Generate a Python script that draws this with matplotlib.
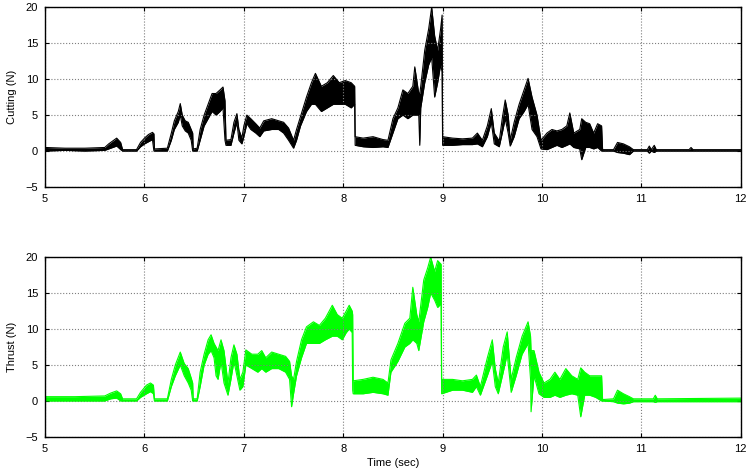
import matplotlib
matplotlib.use('Agg')
import matplotlib.pyplot as plt

# Cutting force envelope (time, lower, upper)
t_cut = [5.00, 5.20, 5.40, 5.60, 5.64, 5.68, 5.72, 5.76, 5.78, 5.92, 5.96, 6.00, 6.04, 6.08, 6.095, 6.10,
         6.23, 6.27, 6.30, 6.34, 6.36, 6.38, 6.41, 6.44, 6.47, 6.485, 6.49, 6.53, 6.56, 6.60, 6.64, 6.68,
         6.72, 6.76, 6.79, 6.81, 6.82, 6.87, 6.90, 6.93, 6.95, 6.98, 7.00, 7.03, 7.07, 7.12, 7.16, 7.20,
         7.28, 7.35, 7.40, 7.45, 7.50, 7.53, 7.57, 7.63, 7.68, 7.72, 7.78, 7.84, 7.90, 7.96, 8.02, 8.08,
         8.115, 8.12, 8.20, 8.30, 8.40, 8.45, 8.50, 8.55, 8.60, 8.65, 8.70, 8.72, 8.76, 8.77, 8.78, 8.82,
         8.86, 8.89, 8.92, 8.95, 8.98, 8.995, 9.00, 9.10, 9.20, 9.30, 9.35, 9.40, 9.45, 9.49, 9.52, 9.57,
         9.60, 9.63, 9.66, 9.68, 9.72, 9.77, 9.82, 9.86, 9.90, 9.95, 9.99, 10.05, 10.10, 10.15, 10.20, 10.25,
         10.28, 10.32, 10.38, 10.40, 10.44, 10.48, 10.52, 10.56, 10.60, 10.61, 10.72, 10.76, 10.82, 10.88, 10.92, 11.06,
         11.08, 11.10, 11.13, 11.15, 11.48, 11.50, 11.52, 12.00]
lo_cut = [0.0, 0.1, 0.0, 0.1, 0.3, 0.5, 0.7, 0.2, 0.0, 0.0, 0.6, 1.0, 1.3, 1.6, 0.0, 0.0,
          0.0, 1.5, 3.0, 4.0, 5.0, 3.5, 2.8, 2.5, 1.5, 0.0, 0.0, 0.0, 1.5, 3.5, 4.5, 5.5,
          5.0, 5.5, 6.0, 1.5, 0.8, 0.8, 2.5, 4.0, 1.5, 1.0, 2.0, 3.8, 3.0, 2.5, 2.0, 2.8,
          3.0, 3.0, 2.5, 1.5, 0.4, 1.5, 3.5, 5.5, 6.5, 6.5, 5.5, 6.0, 6.5, 6.5, 6.5, 6.0,
          6.5, 0.8, 0.6, 0.5, 0.6, 0.5, 2.5, 4.5, 5.0, 4.5, 5.0, 5.0, 5.0, 0.8, 6.0, 9.5,
          12.0, 13.0, 7.5, 9.5, 12.0, 11.0, 0.8, 0.8, 0.9, 0.9, 1.0, 0.6, 2.0, 4.0, 1.0, 0.6,
          2.5, 4.5, 2.5, 0.7, 2.0, 4.5, 5.5, 6.5, 3.0, 2.0, 0.3, 0.2, 0.5, 0.8, 0.5, 0.8,
          1.0, 0.5, 0.3, -1.2, 0.5, 0.5, 0.3, 0.5, 0.0, 0.0, 0.0, -0.2, -0.3, -0.5, 0.0, 0.0,
          -0.3, 0.0, -0.2, 0.0, 0.0, 0.0, 0.0, 0.0]
hi_cut = [0.5, 0.4, 0.4, 0.5, 1.0, 1.4, 1.8, 1.2, 0.2, 0.2, 1.2, 1.8, 2.3, 2.6, 2.4, 0.3,
          0.4, 2.5, 4.2, 5.5, 6.6, 5.0, 4.2, 4.0, 3.0, 2.5, 0.3, 0.4, 3.0, 5.0, 6.5, 8.0,
          8.0, 8.5, 8.9, 7.0, 1.5, 1.6, 4.0, 5.2, 3.0, 1.8, 3.5, 5.0, 4.5, 3.8, 3.2, 4.2,
          4.5, 4.2, 4.0, 3.2, 1.5, 3.0, 4.8, 7.5, 9.5, 10.8, 9.0, 9.5, 10.5, 9.5, 9.8, 9.5,
          9.0, 2.0, 1.8, 2.0, 1.6, 1.5, 4.5, 6.0, 8.5, 8.0, 9.0, 11.7, 8.0, 8.0, 9.0, 14.0,
          17.0, 20.0, 16.0, 14.0, 17.0, 18.9, 2.0, 1.8, 1.7, 1.8, 2.5, 1.5, 3.5, 5.9, 2.5, 1.4,
          4.5, 7.1, 5.0, 1.5, 4.0, 6.5, 8.5, 10.1, 7.5, 5.0, 1.5, 2.5, 3.0, 2.8, 3.0, 3.5,
          5.3, 2.5, 3.0, 4.5, 4.0, 3.8, 2.5, 3.8, 3.5, 0.2, 0.2, 1.2, 1.0, 0.6, 0.2, 0.2,
          0.7, 0.2, 0.8, 0.2, 0.2, 0.5, 0.2, 0.2]

# Thrust force envelope (time, lower, upper)
t_thr = [5.00, 5.30, 5.60, 5.66, 5.72, 5.76, 5.78, 5.92, 5.96, 6.02, 6.06, 6.09, 6.10, 6.23, 6.27, 6.31,
         6.36, 6.40, 6.44, 6.47, 6.485, 6.49, 6.53, 6.56, 6.60, 6.64, 6.67, 6.70, 6.72, 6.74, 6.77, 6.80,
         6.84, 6.87, 6.90, 6.93, 6.96, 6.99, 7.02, 7.08, 7.14, 7.18, 7.22, 7.28, 7.35, 7.42, 7.46, 7.48,
         7.50, 7.53, 7.58, 7.63, 7.70, 7.76, 7.82, 7.89, 7.94, 7.99, 8.03, 8.06, 8.09, 8.095, 8.10, 8.20,
         8.30, 8.40, 8.45, 8.48, 8.55, 8.62, 8.67, 8.70, 8.74, 8.76, 8.81, 8.85, 8.88, 8.92, 8.95, 8.985,
         8.99, 9.10, 9.20, 9.30, 9.34, 9.38, 9.45, 9.50, 9.53, 9.56, 9.61, 9.65, 9.69, 9.74, 9.80, 9.86,
         9.885, 9.89, 9.92, 9.97, 10.02, 10.08, 10.13, 10.18, 10.24, 10.30, 10.36, 10.39, 10.43, 10.48, 10.54, 10.60,
         10.61, 10.72, 10.76, 10.82, 10.88, 10.92, 11.12, 11.14, 11.16, 12.00]
lo_thr = [0.0, 0.0, 0.0, 0.3, 0.4, 0.0, 0.0, 0.0, 0.5, 1.0, 1.3, 1.0, 0.0, 0.0, 2.0, 3.5,
          5.0, 3.5, 2.5, 1.5, 0.0, 0.0, 0.0, 2.0, 5.0, 6.5, 7.0, 6.0, 3.5, 3.0, 5.5, 2.5,
          0.8, 3.0, 5.5, 3.5, 1.5, 2.0, 5.0, 4.5, 4.0, 4.5, 4.0, 4.5, 4.5, 4.0, 3.0, -0.8,
          1.0, 3.5, 6.0, 8.0, 8.0, 8.0, 8.5, 9.0, 9.0, 8.5, 9.5, 10.0, 9.5, 1.5, 1.0, 1.0,
          1.2, 1.0, 0.8, 4.0, 5.5, 7.5, 8.0, 8.5, 8.0, 7.0, 11.0, 13.0, 15.0, 14.0, 13.0, 13.5,
          1.0, 1.5, 1.5, 1.2, 2.0, 0.8, 3.5, 5.5, 2.0, 1.0, 4.0, 6.5, 1.2, 3.5, 6.5, 8.0,
          3.0, -1.5, 3.5, 1.0, 0.5, 0.5, 0.8, 0.5, 0.8, 1.0, 0.8, -2.2, 0.8, 0.8, 0.5, 0.0,
          0.0, -0.1, -0.3, -0.4, -0.3, -0.1, -0.1, -0.2, -0.1, -0.1]
hi_thr = [0.6, 0.6, 0.7, 1.1, 1.4, 1.0, 0.3, 0.3, 1.2, 2.2, 2.5, 2.2, 0.3, 0.3, 3.0, 5.0,
          6.8, 5.2, 4.5, 3.2, 2.5, 0.3, 0.3, 4.0, 6.5, 8.5, 9.2, 8.0, 7.5, 7.0, 8.5, 7.0,
          2.5, 6.0, 7.8, 6.5, 3.0, 4.0, 7.1, 6.5, 6.5, 7.0, 6.0, 6.8, 6.5, 6.2, 5.5, 3.5,
          3.0, 5.5, 8.5, 10.3, 11.0, 10.5, 11.5, 13.3, 12.0, 11.5, 12.5, 13.3, 12.5, 12.0, 2.8, 3.0,
          3.3, 3.0, 2.5, 5.7, 8.0, 10.8, 11.5, 15.8, 12.0, 11.0, 16.8, 18.5, 20.0, 18.0, 19.5, 19.0,
          3.0, 3.0, 2.8, 3.0, 3.6, 2.0, 6.0, 8.5, 4.5, 2.5, 7.5, 9.6, 3.0, 6.0, 9.0, 11.0,
          9.0, 7.0, 7.0, 4.0, 2.5, 3.0, 4.0, 3.0, 4.5, 3.5, 3.0, 4.6, 4.0, 3.5, 3.5, 3.5,
          0.2, 0.3, 1.5, 1.0, 0.6, 0.3, 0.3, 0.8, 0.3, 0.4]

x_ticks = [5, 6, 7, 8, 9, 10, 11, 12]
y_ticks = [-5, 0, 5, 10, 15, 20]

plt.rcParams['font.family'] = ['Liberation Sans', 'DejaVu Sans']
plt.rcParams['font.size'] = 8

fig = plt.figure(figsize=(7.52, 4.76), dpi=100)
ax1 = fig.add_axes([0.060, 0.607, 0.925, 0.378])
ax2 = fig.add_axes([0.060, 0.082, 0.925, 0.378])

panels = [(ax1, t_cut, lo_cut, hi_cut, 'black', 'Cutting (N)'),
          (ax2, t_thr, lo_thr, hi_thr, '#00ff00', 'Thrust (N)')]

for ax, t, lo, hi, col, lab in panels:
    ax.fill_between(t, lo, hi, color=col, lw=0)
    ax.plot(t, lo, color=col, lw=0.8)
    ax.plot(t, hi, color=col, lw=0.8)
    ax.set_xlim(5, 12)
    ax.set_ylim(-5, 20)
    ax.set_xticks(x_ticks)
    ax.set_yticks(y_ticks)
    ax.grid(True, color='#7f7f7f', linestyle=':', linewidth=0.8)
    ax.tick_params(direction='in', top=True, right=True, length=3, width=0.8, pad=5)
    ax.set_ylabel(lab, labelpad=6)
    for s in ax.spines.values():
        s.set_linewidth(1.0)

ax2.set_xlabel('Time (sec)', labelpad=3)

fig.savefig('out.png', dpi=100)
